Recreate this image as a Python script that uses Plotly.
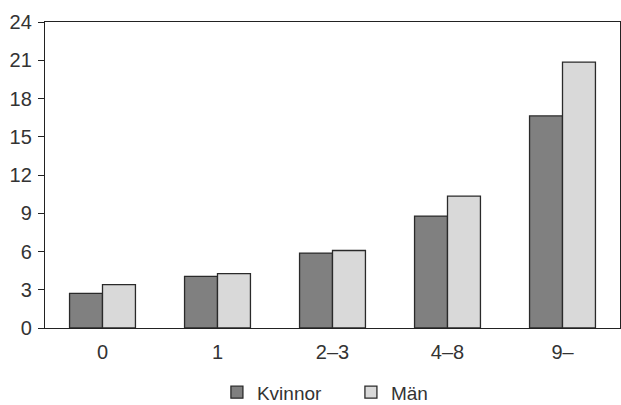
import plotly.graph_objects as go

categories = ["0", "1", "2–3", "4–8", "9–"]
kvinnor = [2.72, 4.05, 5.88, 8.78, 16.63]
man = [3.4, 4.26, 6.08, 10.35, 20.86]
yticks = [0, 3, 6, 9, 12, 15, 18, 21, 24]

fig = go.Figure()
fig.add_trace(go.Bar(x=categories, y=kvinnor, name="Kvinnor",
                     marker=dict(color="#808080", line=dict(color="#2a2a2a", width=1.3))))
fig.add_trace(go.Bar(x=categories, y=man, name="Män",
                     marker=dict(color="#d9d9d9", line=dict(color="#2a2a2a", width=1.3))))

fig.update_layout(
    width=621, height=405, autosize=False,
    margin=dict(l=45, r=1, t=22, b=77, autoexpand=False),
    paper_bgcolor="white", plot_bgcolor="white",
    barmode="group", bargap=0.427, bargroupgap=0,
    font=dict(family="Liberation Sans, Arial, sans-serif", size=20, color="#333"),
    showlegend=True,
    legend=dict(orientation="h", x=0.299, xanchor="left", y=-0.148, yanchor="top",
                font=dict(size=19), traceorder="normal", bgcolor="rgba(0,0,0,0)",
                entrywidth=89, entrywidthmode="pixels"),
)
fig.update_yaxes(range=[0, 24], tickvals=yticks, ticks="outside", ticklen=6,
                 tickcolor="#222", showline=True, linecolor="#222", linewidth=1.3,
                 mirror=True, showgrid=False, zeroline=False, automargin=False,
                 ticklabelstandoff=2)
fig.update_xaxes(showline=True, linecolor="#222", linewidth=1.3, mirror=True,
                 ticks="", showgrid=False, automargin=False, ticklabelstandoff=6)

fig.write_html("out.html", config={"responsive": False, "displayModeBar": False},
               post_script="document.body.style.margin='0';document.body.style.overflow='hidden';")
